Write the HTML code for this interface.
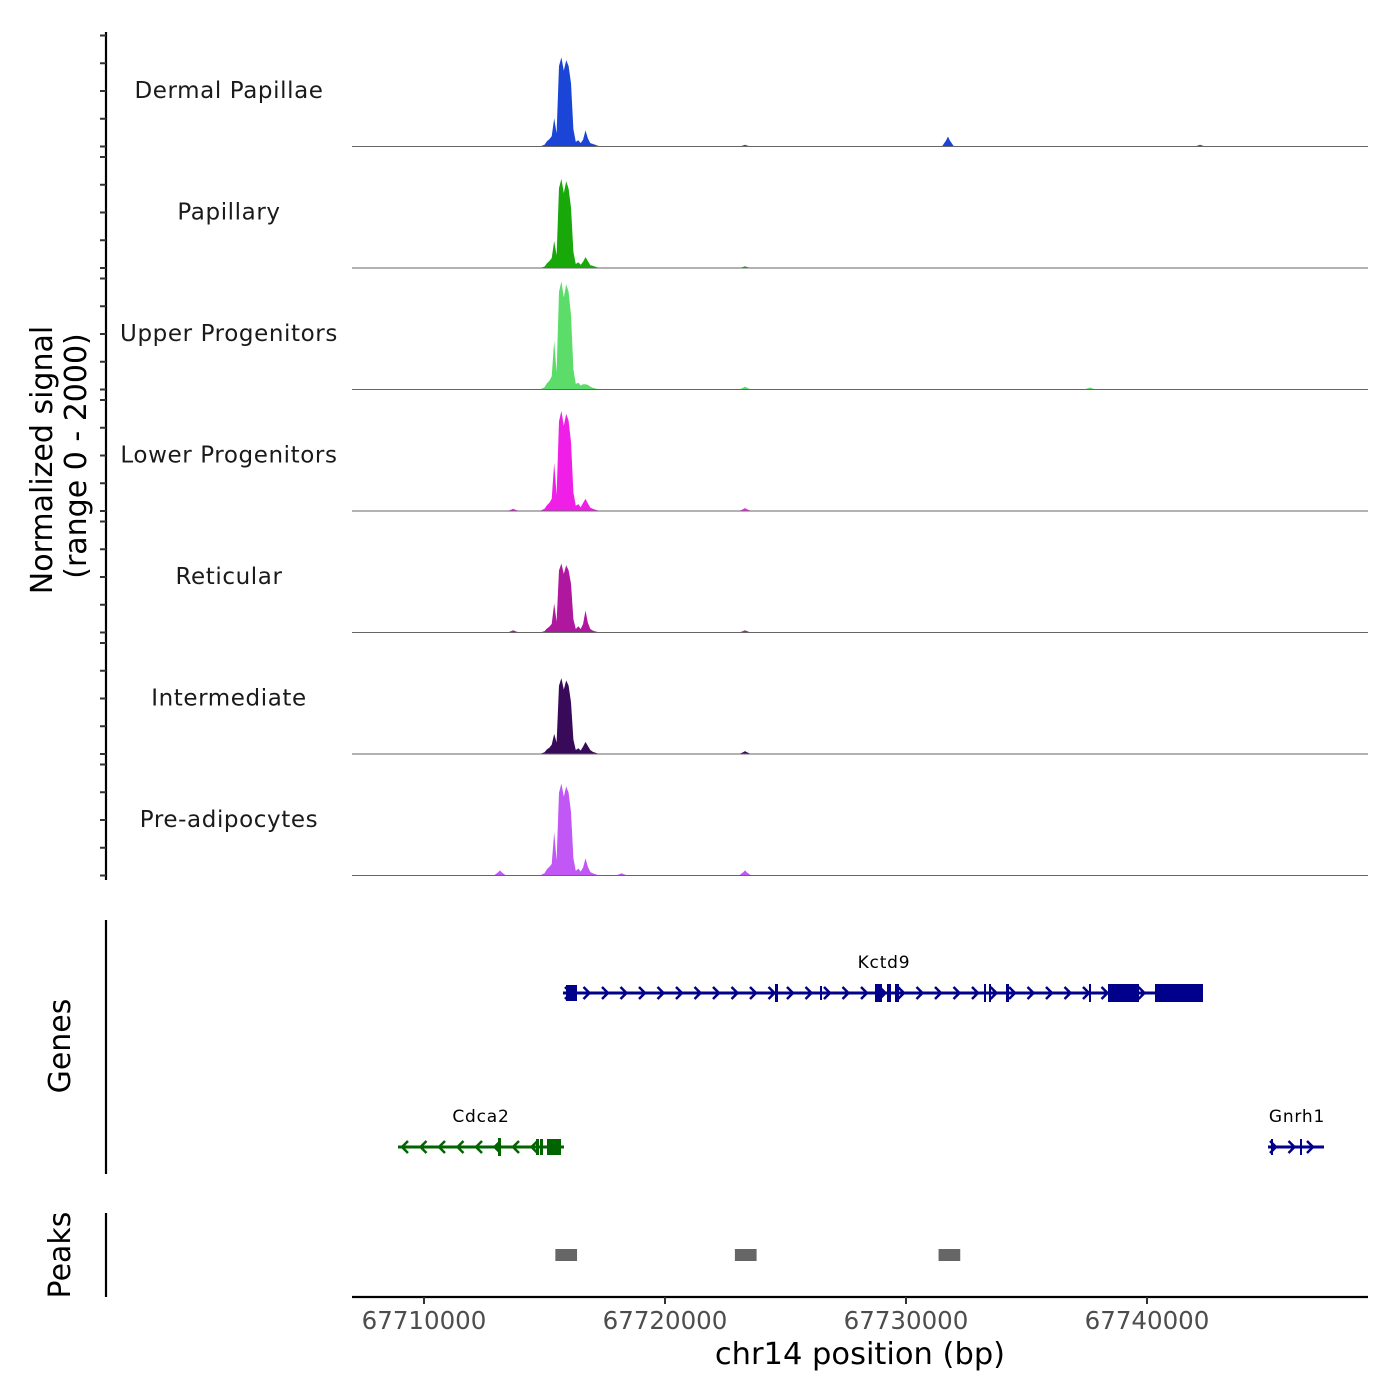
<!DOCTYPE html>
<html><head><meta charset="utf-8"><style>
html,body{margin:0;padding:0;background:#fff;}
svg{display:block;font-family:"DejaVu Sans","Liberation Sans",sans-serif;}
</style></head><body>
<svg id="chart" width="1400" height="1400" viewBox="0 0 1400 1400" xmlns="http://www.w3.org/2000/svg"></svg>
<script>
const trackNames=["Dermal Papillae","Papillary","Upper Progenitors","Lower Progenitors","Reticular","Intermediate","Pre-adipocytes"];
const trackColors=["#1a45d6","#18a80a","#5cdd6a","#f01fe8","#b0179f","#3a0a5a","#c157f5"];
const binStart=67714800;
const binSize=100;
const sigDP=[0,15,30,90,125,180,490,230,1400,1550,1320,1500,1400,1100,300,80,110,60,120,280,140,60,45,30,15,0,0,0,0,0,0];
const sigPap=[0,10,25,80,120,170,470,220,1390,1550,1300,1510,1380,1050,280,70,100,55,110,190,120,50,40,25,10,0,0,0,0,0,0];
const sigUpper=[0,20,40,110,150,230,850,300,1700,1880,1600,1830,1700,1300,350,95,120,70,90,90,80,50,30,20,10,0,0,0,0,0,0];
const sigLower=[0,20,40,100,140,210,835,280,1560,1740,1480,1690,1570,1200,320,90,120,65,140,210,130,60,40,25,10,0,0,0,0,0,0];
const sigRet=[0,10,25,70,100,150,505,190,1080,1200,1020,1170,1080,850,230,60,110,60,150,380,170,60,35,20,10,0,0,0,0,0,0];
const sigInt=[0,15,30,80,110,160,350,200,1190,1320,1120,1280,1190,900,250,70,100,60,130,210,140,70,40,25,10,0,0,0,0,0,0];
const sigPre=[0,20,40,110,150,200,750,260,1440,1600,1370,1550,1440,1100,300,80,120,70,140,300,150,60,40,25,10,0,0,0,0,0,0];
const extraPos=[[67731740,67742200,67723320],[67723320],[67723320,67737630],[67713700,67723320],[67713700,67723320],[67723320],[67713150,67723320,67718200]];
const extraVal=[[175,30,30],[30],[50,35],[40,50],[40,40],[50],[90,90,40]];
const tickLabels=["67710000","67720000","67730000","67740000"];
const tickPos=[67710000,67720000,67730000,67740000];
const peakStarts=[67715450,67722900,67731350];
const peakEnds=[67716350,67723800,67732250];

const svg=document.getElementById('chart');
const NS="http://www.w3.org/2000/svg";
function mk(tag,attrs,parent){const e=document.createElementNS(NS,tag);for(const k in attrs)e.setAttribute(k,attrs[k]);(parent||svg).appendChild(e);return e;}
const X0=352,X1=1368,BP0=67707012,PXPERBP=24.1/1000;
function xs(bp){return X0+(bp-BP0)*PXPERBP;}
const TOP=25,TH=121.5,YMAX=2000,YPX=115;
function ys(v,base){return base-v/YMAX*YPX;}
const sigs=[sigDP,sigPap,sigUpper,sigLower,sigRet,sigInt,sigPre];

let ax=mk('line',{x1:106,y1:32,x2:106,y2:880,stroke:'#000','stroke-width':2.2});

for(let t=0;t<7;t++){
  const base=TOP+TH*(t+1);
  for(let k=0;k<5;k++){
    const tk=mk('line',{x1:100,x2:106,y1:base-k*27.75,y2:base-k*27.75,stroke:'#333','stroke-width':2});
    
  }
  const g=mk('g',{});
  
  
  let d='M'+X0+','+base;
  const arr=sigs[t];
  d+=' L'+xs(binStart).toFixed(1)+','+base;
  for(let i=0;i<arr.length;i++){d+=' L'+xs(binStart+i*binSize).toFixed(1)+','+ys(arr[i],base).toFixed(1);}
  d+=' L'+xs(binStart+(arr.length-1)*binSize).toFixed(1)+','+base+' Z';
  const p=mk('path',{d:d,fill:trackColors[t]},g);
  
  for(let j=0;j<extraPos[t].length;j++){
    const b=extraPos[t][j],v=extraVal[t][j];
    const ep=mk('path',{d:'M'+xs(b-250)+','+base+' L'+xs(b-80)+','+ys(v*0.6,base)+' L'+xs(b)+','+ys(v,base)+' L'+xs(b+80)+','+ys(v*0.6,base)+' L'+xs(b+250)+','+base+' Z',fill:trackColors[t]},g);
    
  }
  const bl=mk('line',{x1:X0,x2:X1,y1:base,y2:base,stroke:'#666','stroke-width':1},g);
  
  const lab=mk('text',{x:229,y:base-TH/2+12,'text-anchor':'middle','font-size':23,fill:'#1a1a1a','letter-spacing':'0.6'},g);
  lab.textContent=trackNames[t];
  
}
const yt=mk('text',{transform:'translate(52,460) rotate(-90)','text-anchor':'middle','font-size':30});
yt.textContent='Normalized signal';
const yt2=mk('text',{transform:'translate(86,456) rotate(-90)','text-anchor':'middle','font-size':30});
yt2.textContent='(range 0 - 2000)';

const ga=mk('line',{x1:106,y1:920,x2:106,y2:1174,stroke:'#000','stroke-width':2.2});

const gt=mk('text',{transform:'translate(70,1046) rotate(-90)','text-anchor':'middle','font-size':30});
gt.textContent='Genes';
function gene(name,x1,x2,y,col,dir,exons,labelX){
  const g=mk('g',{});
  mk('line',{x1:x1,x2:x2,y1:y,y2:y,stroke:col,'stroke-width':3},g);
  for(let x=x1+6;x<x2-4;x+=18.5){
    const a=dir>0?'M'+(x-4)+','+(y-6)+' L'+(x+2)+','+y+' L'+(x-4)+','+(y+6):'M'+(x+4)+','+(y-6)+' L'+(x-2)+','+y+' L'+(x+4)+','+(y+6);
    mk('path',{d:a,stroke:col,'stroke-width':2.5,fill:'none'},g);
  }
  exons.forEach(e=>mk('rect',{x:e[0],y:y-e[2]/2,width:e[1]-e[0],height:e[2],fill:col},g));
  const t=mk('text',{x:labelX,y:y-25,'text-anchor':'middle','font-size':17,fill:'#000','letter-spacing':'0.8'},g);t.textContent=name;
}
gene('Kctd9',563,1203,993,'#00008b',1,[[566,577,16],[775,778,18],[820,822,14],[875,882,18],[887,891,18],[895,899,18],[984,986,18],[989,991,18],[1006,1009,18],[1089,1091,18],[1108,1139,18],[1155,1203,18]],884);
gene('Cdca2',398,564,1147,'#006400',-1,[[498,501,18],[536,539,16],[540,543,16],[547,561,16]],481);
gene('Gnrh1',1268,1324,1147,'#00008b',1,[[1271,1273,16],[1300,1302,16]],1297);

const pa=mk('line',{x1:106,y1:1213,x2:106,y2:1297,stroke:'#000','stroke-width':2.2});

const pt=mk('text',{transform:'translate(70,1255) rotate(-90)','text-anchor':'middle','font-size':30});
pt.textContent='Peaks';
for(let i=0;i<peakStarts.length;i++){
  const r=mk('rect',{x:xs(peakStarts[i]),y:1249,width:xs(peakEnds[i])-xs(peakStarts[i]),height:12,fill:'#666'});
  
}

const xa=mk('line',{x1:X0,x2:X1,y1:1297,y2:1297,stroke:'#000','stroke-width':2.2});

for(let i=0;i<tickPos.length;i++){
  const tk=mk('line',{x1:xs(tickPos[i]),x2:xs(tickPos[i]),y1:1297,y2:1304,stroke:'#333','stroke-width':2});
  
  const tl=mk('text',{x:xs(tickPos[i]),y:1329,'text-anchor':'middle','font-size':24.5,fill:'#4d4d4d'});
  tl.textContent=tickLabels[i];
}
const xt=mk('text',{x:860,y:1364,'text-anchor':'middle','font-size':30.5});
xt.textContent='chr14 position (bp)';
</script>
</body></html>
